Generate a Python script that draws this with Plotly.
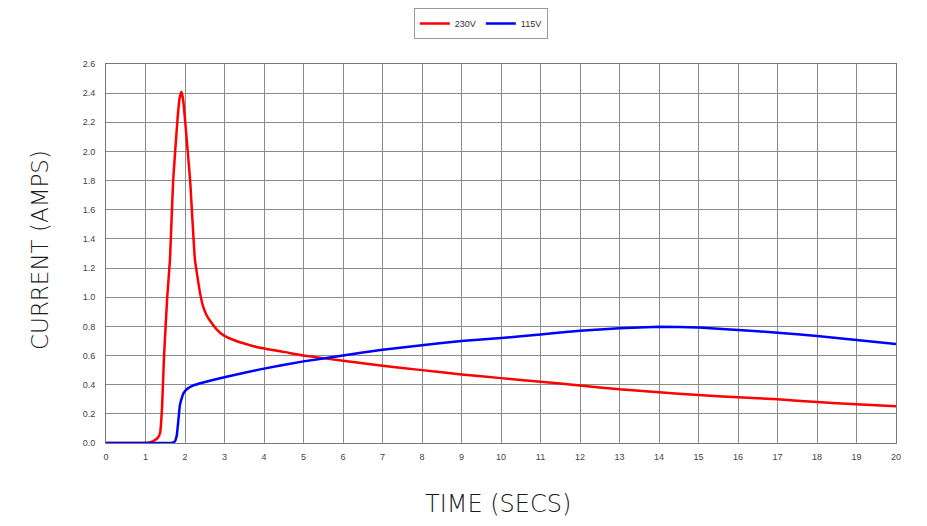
import plotly.graph_objects as go

# 230V series
t_230 = [0, 0.5, 1.0, 1.12, 1.24, 1.32, 1.37, 1.42, 1.47, 1.55, 1.62, 1.70, 1.81, 1.86, 1.91, 1.95, 2.0, 2.13, 2.25, 2.38, 2.46, 2.54, 2.63, 2.8, 2.97, 3.2, 3.48, 3.9, 4.5, 5, 6, 7, 8, 9, 10, 11, 12, 13, 14, 15, 16, 17, 18, 19, 20]
i_230 = [0, 0, 0, 0.005, 0.02, 0.04, 0.07, 0.25, 0.6, 1.0, 1.26, 1.80, 2.22, 2.36, 2.41, 2.36, 2.22, 1.80, 1.26, 1.03, 0.935, 0.88, 0.84, 0.78, 0.74, 0.71, 0.684, 0.653, 0.625, 0.60, 0.565, 0.53, 0.5, 0.47, 0.445, 0.42, 0.395, 0.368, 0.348, 0.329, 0.313, 0.30, 0.281, 0.265, 0.252]

# 115V series
t_115 = [0, 0.5, 1.0, 1.5, 1.66, 1.74, 1.79, 1.83, 1.87, 1.92, 1.96, 2.05, 2.21, 2.46, 3.05, 3.9, 5, 6, 7, 8, 9, 10, 11, 12, 13, 14, 15, 16, 17, 18, 19, 20]
i_115 = [0, 0, 0, 0, 0, 0.01, 0.05, 0.15, 0.26, 0.31, 0.34, 0.37, 0.395, 0.415, 0.455, 0.505, 0.56, 0.6, 0.64, 0.67, 0.70, 0.72, 0.745, 0.77, 0.787, 0.798, 0.793, 0.775, 0.757, 0.734, 0.706, 0.679]

x_ticks = list(range(0, 21))
y_ticks = [round(0.2 * k, 1) for k in range(14)]
y_labels = [f"{v:.1f}" for v in y_ticks]

x_title = "TIME (SECS)"
y_title = "CURRENT (AMPS)"

fig = go.Figure()
fig.add_trace(go.Scatter(x=t_230, y=i_230, mode="lines", name="230V",
                         line=dict(color="#ff0000", width=2.5, shape="spline", smoothing=0.3)))
fig.add_trace(go.Scatter(x=t_115, y=i_115, mode="lines", name="115V",
                         line=dict(color="#0000ff", width=2.5, shape="spline", smoothing=0.3)))

tickfont = dict(size=9, family="Liberation Sans", color="#444444")
titlefont = dict(size=23, family="DejaVu Sans", color="#1a1a1a", weight=200)
xtitlefont = dict(size=24, family="DejaVu Sans", color="#1a1a1a", weight=200)

W, H = 911, 510
L, R, T, B = 98, 23, 56, 75
pw, ph = W - L - R, H - T - B

fig.update_layout(
    width=W, height=H,
    margin=dict(l=L, r=R, t=T, b=B),
    paper_bgcolor="white", plot_bgcolor="white",
    font=dict(family="DejaVu Sans", color="#333333"),
    showlegend=True,
    legend=dict(orientation="h", x=0.519, xanchor="center", xref="container",
                y=1.0, yanchor="top", yref="container",
                bordercolor="#999999", borderwidth=1,
                font=dict(size=9, family="Liberation Sans", color="#333333"),
                tracegroupgap=0),
    xaxis=dict(range=[0, 20], tickvals=x_ticks, ticktext=[str(v) for v in x_ticks],
               showgrid=True, gridcolor="#8c8c8c", gridwidth=1,
               showline=True, linecolor="#777777", linewidth=1, mirror=True,
               zeroline=False, tickfont=tickfont, ticklabelstandoff=5),
    yaxis=dict(range=[0, 2.6], tickvals=y_ticks, ticktext=y_labels,
               showgrid=True, gridcolor="#8c8c8c", gridwidth=1,
               showline=True, linecolor="#777777", linewidth=1, mirror=True,
               zeroline=False, tickfont=tickfont, ticklabelstandoff=8),
    annotations=[
        dict(text=x_title, xref="paper", yref="paper", x=(490 - L) / pw, y=-61 / ph,
             xanchor="center", yanchor="middle", showarrow=False, font=xtitlefont),
        dict(text=y_title, xref="paper", yref="paper", x=-66 / pw, y=(H - B - (250 - 8)) / ph,
             xanchor="center", yanchor="middle", textangle=-90, showarrow=False, font=titlefont),
    ],
)

fig.write_html("out.html")
